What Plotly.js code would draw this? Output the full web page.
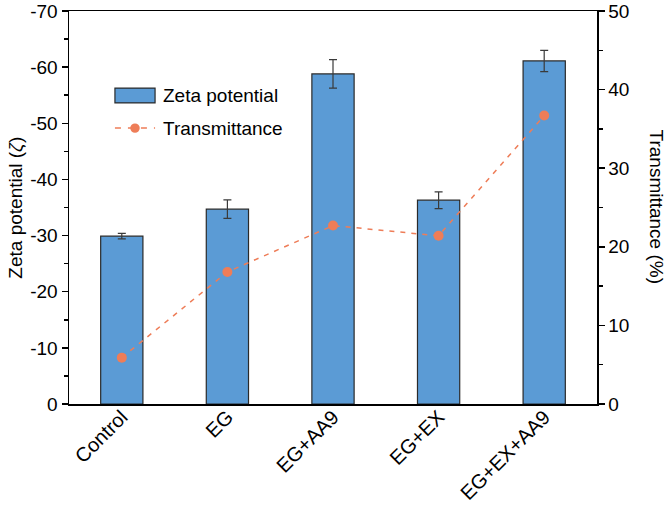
<!DOCTYPE html>
<html><head><meta charset="utf-8">
<script src="https://cdn.plot.ly/plotly-3.0.1.min.js"></script>
<style>body{margin:0;padding:0;background:#fff}#chart{width:666px;height:505px}</style>
</head><body><div id="chart"></div>
<script>
const categories = ["Control", "EG", "EG+AA9", "EG+EX", "EG+EX+AA9"];
const zeta = [-29.9, -34.7, -58.8, -36.3, -61.1];
const zetaErr = [0.5, 1.65, 2.55, 1.5, 1.9];
const transmittance = [5.9, 16.8, 22.7, 21.4, 36.7];
const leftTickVals = [0, -10, -20, -30, -40, -50, -60, -70];
const leftTickText = ["0", "-10", "-20", "-30", "-40", "-50", "-60", "-70"];
const rightTickVals = [0, 10, 20, 30, 40, 50];

const xIdx = categories.map((c, i) => i);
const font = {family: "Liberation Sans, Arial, sans-serif", size: 19, color: "#000"};
const xFont = {family: "Liberation Sans, Arial, sans-serif", size: 20, color: "#000"};

const bar = {
  type: "bar", x: xIdx, y: zeta, width: 0.4, name: "Zeta potential",
  marker: {color: "#5B9BD5", line: {color: "#2a2a2a", width: 1.2}},
  error_y: {type: "data", array: zetaErr, visible: true, color: "#3a3a3a", thickness: 1.2, width: 4},
  showlegend: false, hoverinfo: "skip"
};
const line = {
  type: "scatter", mode: "lines+markers", x: xIdx, y: transmittance, yaxis: "y2", name: "Transmittance",
  line: {color: "#EE7D58", width: 1.5, dash: "5px,6px"},
  marker: {color: "#EE7D58", size: 10},
  showlegend: false, hoverinfo: "skip"
};

const layout = {
  width: 666, height: 505,
  margin: {l: 69, r: 69, t: 11, b: 101},
  paper_bgcolor: "#fff", plot_bgcolor: "#fff",
  font: font,
  xaxis: {
    range: [-0.5, 4.5], tickvals: xIdx, ticktext: categories, tickangle: -45,
    showline: true, linecolor: "#000", linewidth: 1.5, mirror: true, ticks: "",
    showgrid: false, zeroline: false, tickfont: xFont, ticklabelstandoff: -8
  },
  yaxis: {
    range: [0, -70], tickvals: leftTickVals, ticktext: leftTickText,
    ticks: "outside", ticklen: 6, tickwidth: 1.5, tickcolor: "#000",
    minor: {ticks: "outside", dtick: 5, ticklen: 4, tickwidth: 1.5, tickcolor: "#000", showgrid: false},
    showline: true, linecolor: "#000", linewidth: 1.5, showgrid: false, zeroline: false,
    tickfont: font
  },
  yaxis2: {
    overlaying: "y", side: "right", range: [0, 50], tickvals: rightTickVals,
    ticks: "outside", ticklen: 6, tickwidth: 1.5, tickcolor: "#000",
    minor: {ticks: "outside", dtick: 5, ticklen: 4, tickwidth: 1.5, tickcolor: "#000", showgrid: false},
    showline: true, linecolor: "#000", linewidth: 1.5, showgrid: false, zeroline: false,
    tickfont: font
  },
  shapes: [
    {type: "rect", xref: "paper", yref: "paper", x0: 0.087, x1: 0.163, y0: 0.766, y1: 0.804,
     fillcolor: "#5B9BD5", line: {color: "#2a2a2a", width: 1.2}},
    {type: "line", xref: "paper", yref: "paper", x0: 0.087, x1: 0.163, y0: 0.702, y1: 0.702,
     line: {color: "#EE7D58", width: 1.5, dash: "6px,7px"}},
    {type: "circle", xref: "paper", yref: "paper", x0: 0.116, x1: 0.134, y0: 0.690, y1: 0.714,
     fillcolor: "#EE7D58", line: {color: "#EE7D58", width: 0}}
  ],
  annotations: [
    {xref: "paper", yref: "paper", x: 0.174, y: 0.785, text: "Zeta potential", showarrow: false,
     xanchor: "left", yanchor: "middle", font: font},
    {xref: "paper", yref: "paper", x: 0.174, y: 0.702, text: "Transmittance", showarrow: false,
     xanchor: "left", yanchor: "middle", font: font},
    {xref: "paper", yref: "paper", x: -0.102, y: 0.5, text: "Zeta potential (<i>ζ</i>)", showarrow: false,
     textangle: -90, xanchor: "center", yanchor: "middle", font: font},
    {xref: "paper", yref: "paper", x: 1.1136, y: 0.5, text: "Transmittance (%)", showarrow: false,
     textangle: 90, xanchor: "center", yanchor: "middle", font: font}
  ]
};

Plotly.newPlot("chart", [bar, line], layout, {displayModeBar: false, staticPlot: true});
</script></body></html>
